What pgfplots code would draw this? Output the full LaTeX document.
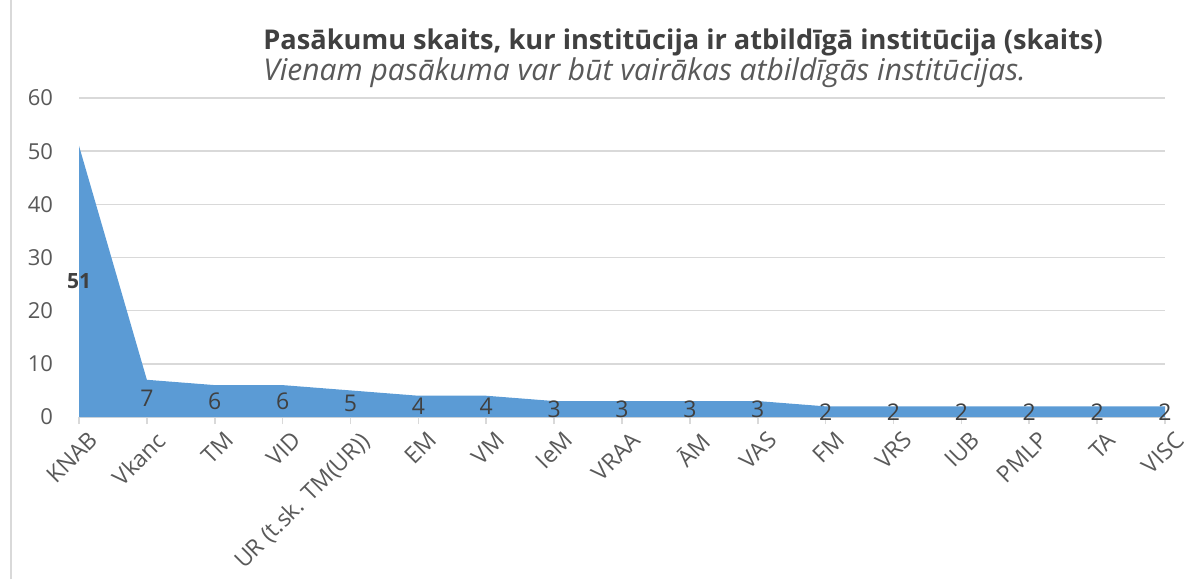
\documentclass[border=0pt]{standalone}
\usepackage{fontspec}
\setmainfont{Open Sans}
\usepackage{pgfplots}
\pgfplotsset{compat=1.18}
\definecolor{areablue}{HTML}{5B9BD5}
\definecolor{gridgray}{HTML}{D9D9D9}
\definecolor{ticktext}{HTML}{595959}
\definecolor{labtext}{HTML}{404040}
\begin{document}
\begin{tikzpicture}[x=0.5pt,y=0.5pt]
\useasboundingbox (0,0) rectangle (1204,579);
\draw[gridgray, line width=0.8pt] (11,0) -- (11,579);
\node[font=\bfseries\fontsize{13.6}{15}\selectfont, text=labtext, anchor=west, inner sep=0pt] at (263,537) {Pasākumu skaits, kur institūcija ir atbildīgā institūcija (skaits)};
\node[font=\itshape\fontsize{15}{16}\selectfont, text=ticktext, anchor=west, inner sep=0pt] at (263,506) {Vienam pasākuma var būt vairākas atbildīgās institūcijas.};
\begin{axis}[
  at={(39.5pt,81pt)}, anchor=south west,
  scale only axis, width=543pt, height=159.5pt,
  xmin=0, xmax=16, ymin=0, ymax=60,
  clip=false,
  axis lines*=left,
  x axis line style={draw=gridgray, line width=0.8pt},
  y axis line style={draw=none},
  ymajorgrids, grid style={draw=gridgray, line width=0.8pt},
  ytick={0,10,...,60},
  ytick style={draw=none},
  xtick={0,...,16},
  xticklabels={KNAB,Vkanc,TM,VID,UR (t.sk. TM(UR)),EM,VM,IeM,VRAA,ĀM,VAS,FM,VRS,IUB,PMLP,TA,VISC},
  xtick style={draw=gridgray, line width=0.8pt},
  tick align=outside, major tick length=3.5pt,
  xticklabel style={rotate=45, anchor=north east, font=\fontsize{11.5}{13}\selectfont, text=ticktext, inner sep=1pt, yshift=-4pt, xshift=2pt},
  yticklabel style={font=\fontsize{11}{12}\selectfont, text=ticktext, xshift=-6pt},
  /pgf/number format/assume math mode=true,
]
\addplot[fill=areablue, draw=none] coordinates {
(0,51) (1,7) (2,6) (3,6) (4,5) (5,4) (6,4) (7,3) (8,3) (9,3) (10,3) (11,2) (12,2) (13,2) (14,2) (15,2) (16,2)
} \closedcycle;
\addplot[draw=none, mark=none, nodes near coords, point meta=explicit symbolic,
  nodes near coords style={anchor=center, font=\bfseries\fontsize{10.5}{12}\selectfont, text=labtext}]
  coordinates {(0,25.5) [51]};
\addplot[draw=none, mark=none, nodes near coords, point meta=explicit symbolic,
  nodes near coords style={anchor=center, font=\fontsize{11.5}{12}\selectfont, text=labtext}]
  coordinates {
(1,3.5) [7] (2,3) [6] (3,3) [6] (4,2.5) [5] (5,2) [4] (6,2) [4] (7,1.5) [3] (8,1.5) [3] (9,1.5) [3] (10,1.5) [3]
(11,1) [2] (12,1) [2] (13,1) [2] (14,1) [2] (15,1) [2] (16,1) [2]
};
\end{axis}
\end{tikzpicture}
\end{document}
